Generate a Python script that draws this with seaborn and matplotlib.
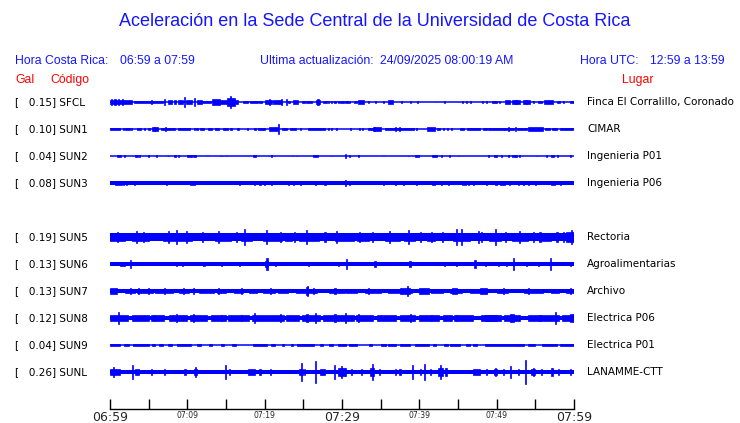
import numpy as np
import pandas as pd
import matplotlib
matplotlib.use("Agg")
import matplotlib.pyplot as plt
import matplotlib.transforms as mtransforms
import seaborn as sns

sns.set_style("white")

# --- data (minutes after 06:59, half amplitude in Gal) ---
codes = ['SFCL', 'SUN1', 'SUN2', 'SUN3', 'SUN5', 'SUN6', 'SUN7', 'SUN8', 'SUN9', 'SUNL']
peaks = [0.15, 0.10, 0.04, 0.08, 0.19, 0.13, 0.13, 0.12, 0.04, 0.26]
places = ['Finca El Corralillo, Coronado', 'CIMAR', 'Ingenieria P01', 'Ingenieria P06',
          'Rectoria', 'Agroalimentarias', 'Archivo', 'Electrica P06', 'Electrica P01', 'LANAMME-CTT']
noise = [0.0, 0.0, 0.0, 0.032, 0.078, 0.037, 0.04, 0.044, 0.0, 0.045]

tick_minutes = list(range(0, 61, 5))
tick_labels = ['06:59', '', '07:09', '', '07:19', '', '07:29', '', '07:39', '', '07:49', '', '07:59']

# bursts: (start, end, half amplitude)
sfcl = [(0.0, 2.8, 0.035), (0.2, 0.2, 0.055), (0.65, 0.65, 0.055), (1.1, 1.1, 0.055), (1.6, 1.6, 0.055),
        (3.15, 6.9, 0.028), (5.4, 5.4, 0.05), (7.0, 7.0, 0.07), (7.5, 8.0, 0.035), (8.3, 8.5, 0.035),
        (8.75, 9.5, 0.045), (9.6, 9.6, 0.10), (9.8, 10.6, 0.035), (10.9, 10.9, 0.09), (11.25, 11.85, 0.04),
        (11.9, 13.05, 0.025), (13.2, 14.2, 0.065), (14.2, 15.1, 0.05), (15.1, 16.1, 0.09), (15.6, 15.6, 0.12),
        (16.1, 16.6, 0.04), (17.2, 17.8, 0.03), (18.1, 19.1, 0.03), (19.3, 19.6, 0.03), (20.0, 20.9, 0.04),
        (20.6, 20.6, 0.06), (21.1, 21.8, 0.035), (21.8, 22.2, 0.045), (22.2, 22.2, 0.06), (22.8, 22.8, 0.07),
        (23.0, 23.3, 0.03), (23.7, 24.35, 0.045), (24.8, 25.2, 0.03), (25.4, 26.1, 0.03), (26.6, 27.2, 0.04),
        (26.9, 26.9, 0.055), (27.6, 28.0, 0.03), (28.2, 28.2, 0.02), (28.6, 28.6, 0.02), (29.1, 29.1, 0.02),
        (29.5, 29.5, 0.02), (29.75, 30.2, 0.03), (30.4, 31.0, 0.03), (31.5, 31.9, 0.03), (32.1, 32.8, 0.035),
        (33.4, 33.4, 0.02), (34.3, 34.3, 0.02), (35.35, 35.35, 0.02), (35.9, 36.65, 0.035), (37.7, 37.7, 0.03),
        (38.9, 38.9, 0.02), (39.75, 39.75, 0.03), (42.25, 42.25, 0.01), (43.3, 43.3, 0.015), (45.5, 45.7, 0.025),
        (46.1, 46.1, 0.02), (46.6, 46.6, 0.03), (48.2, 48.2, 0.02), (48.7, 48.7, 0.02), (49.4, 50.0, 0.03),
        (50.35, 50.35, 0.02), (51.1, 51.75, 0.035), (51.95, 53.0, 0.04), (52.5, 52.5, 0.05), (53.4, 54.3, 0.035),
        (53.9, 53.9, 0.05), (54.75, 54.75, 0.02), (55.4, 55.8, 0.03), (56.1, 57.3, 0.035), (57.8, 58.2, 0.03),
        (58.7, 58.7, 0.02), (59.5, 60.0, 0.03)]
sun1 = [(0.0, 1.3, 0.03), (1.7, 1.7, 0.02), (2.0, 2.6, 0.025), (2.8, 2.8, 0.02), (3.45, 4.0, 0.03),
        (4.5, 4.5, 0.02), (4.9, 5.2, 0.025), (5.4, 6.2, 0.035), (5.7, 5.7, 0.05), (6.6, 7.1, 0.025),
        (7.1, 8.4, 0.03), (7.2, 7.2, 0.05), (8.75, 10.35, 0.028), (10.9, 10.9, 0.02), (11.25, 11.25, 0.02),
        (11.6, 12.1, 0.03), (12.7, 13.15, 0.025), (13.6, 14.1, 0.025), (14.65, 15.2, 0.03), (15.65, 15.65, 0.02),
        (16.4, 16.7, 0.025), (17.8, 17.8, 0.02), (18.75, 18.75, 0.02), (19.2, 19.6, 0.02), (19.7, 20.1, 0.03),
        (20.6, 21.7, 0.035), (21.8, 21.8, 0.11), (22.2, 22.85, 0.02), (23.3, 24.1, 0.03), (24.6, 24.6, 0.02),
        (25.6, 27.8, 0.03), (28.2, 28.2, 0.02), (28.7, 28.7, 0.02), (29.3, 29.3, 0.02), (31.1, 31.1, 0.02),
        (32.3, 32.3, 0.015), (32.7, 32.7, 0.015), (33.4, 34.06, 0.03), (34.06, 35.1, 0.035), (34.2, 34.2, 0.045),
        (35.6, 39.3, 0.03), (36.9, 36.9, 0.04), (37.4, 37.4, 0.04), (39.6, 39.6, 0.02), (40.95, 42.0, 0.035),
        (42.3, 42.7, 0.03), (43.1, 43.1, 0.02), (43.6, 43.6, 0.02), (44.2, 44.2, 0.015), (45.2, 45.8, 0.02),
        (46.1, 47.85, 0.03), (48.2, 48.7, 0.025), (48.9, 50.9, 0.03), (50.95, 52.2, 0.03), (51.5, 51.5, 0.045),
        (52.4, 52.4, 0.045), (52.6, 53.9, 0.03), (54.1, 56.0, 0.035), (56.3, 56.9, 0.025), (57.1, 57.8, 0.025),
        (58.2, 59.9, 0.025)]
sun2 = [(0.85, 1.4, 0.03), (1.9, 1.9, 0.02), (3.2, 3.6, 0.03), (3.8, 3.8, 0.02), (4.95, 4.95, 0.02),
        (6.0, 6.0, 0.015), (7.5, 7.5, 0.01), (8.4, 8.4, 0.02), (8.8, 8.8, 0.02), (9.9, 10.6, 0.03),
        (10.75, 11.1, 0.03), (12.6, 12.6, 0.01), (14.35, 14.35, 0.01), (15.1, 15.1, 0.01), (18.45, 18.9, 0.03),
        (20.9, 20.9, 0.02), (23.6, 23.6, 0.01), (24.1, 24.1, 0.01), (26.3, 26.85, 0.03), (28.7, 28.7, 0.01),
        (30.5, 30.5, 0.05), (30.95, 30.95, 0.02), (32.1, 32.1, 0.015), (35.35, 35.35, 0.01), (38.6, 38.6, 0.01),
        (39.45, 39.9, 0.03), (41.6, 42.25, 0.03), (42.9, 42.9, 0.015), (43.9, 43.9, 0.02), (45.05, 45.05, 0.01),
        (48.9, 48.9, 0.025), (49.65, 50.1, 0.03), (50.65, 50.65, 0.015), (51.5, 51.5, 0.015), (51.95, 52.6, 0.025),
        (53.0, 53.0, 0.02), (55.2, 55.2, 0.01), (56.5, 56.5, 0.02), (57.0, 57.4, 0.03), (57.9, 57.9, 0.02),
        (59.5, 59.5, 0.015)]
sun3 = [(0.65, 1.5, 0.045), (1.7, 1.7, 0.04), (2.15, 2.15, 0.04), (3.2, 3.2, 0.045), (7.3, 7.3, 0.035),
        (10.35, 11.0, 0.05), (16.8, 16.8, 0.035), (18.65, 18.65, 0.045), (19.4, 19.4, 0.04), (20.0, 20.0, 0.035),
        (20.9, 20.9, 0.035), (23.05, 23.05, 0.04), (23.7, 23.7, 0.035), (24.6, 24.6, 0.035), (26.6, 26.6, 0.045),
        (27.8, 27.8, 0.035), (30.5, 30.5, 0.065), (31.0, 31.0, 0.035), (35.35, 35.35, 0.035), (36.9, 36.9, 0.035),
        (37.9, 37.9, 0.035), (39.6, 39.6, 0.04), (41.6, 42.0, 0.045), (42.9, 42.9, 0.04), (43.75, 43.75, 0.035),
        (45.6, 45.6, 0.035), (45.9, 45.9, 0.035), (46.35, 46.35, 0.035), (47.0, 47.0, 0.035), (48.7, 48.7, 0.04),
        (49.8, 50.0, 0.045), (50.4, 51.1, 0.035), (51.7, 51.7, 0.035), (52.8, 52.8, 0.035), (53.5, 53.5, 0.035),
        (54.1, 54.1, 0.035), (55.0, 55.0, 0.035), (57.0, 57.55, 0.045), (58.2, 58.2, 0.035)]
sun5 = [(0.0, 2.0, 0.09), (1.0, 1.0, 0.11), (2.8, 5.0, 0.09), (3.45, 3.45, 0.135), (4.3, 4.3, 0.11),
        (6.9, 10.6, 0.09), (7.55, 7.55, 0.13), (8.6, 8.6, 0.15), (9.9, 9.9, 0.12), (12.0, 12.0, 0.10),
        (13.6, 15.7, 0.09), (14.0, 14.0, 0.12), (16.3, 16.3, 0.10), (17.0, 18.3, 0.09), (17.45, 17.45, 0.165),
        (19.8, 22.2, 0.09), (20.25, 20.25, 0.14), (22.0, 22.0, 0.105), (22.6, 23.5, 0.09), (23.9, 23.9, 0.10),
        (24.4, 27.0, 0.09), (25.4, 25.4, 0.14), (27.8, 27.8, 0.10), (29.1, 31.5, 0.09), (29.3, 29.3, 0.12),
        (32.0, 33.5, 0.09), (32.3, 32.3, 0.115), (34.0, 34.0, 0.10), (35.5, 37.5, 0.095), (36.2, 36.2, 0.13),
        (38.0, 39.5, 0.09), (38.6, 38.6, 0.155), (40.2, 40.2, 0.10), (41.0, 42.0, 0.09), (41.6, 41.6, 0.105),
        (43.0, 43.0, 0.10), (44.3, 46.5, 0.095), (44.75, 44.75, 0.16), (45.5, 45.5, 0.17), (47.6, 47.6, 0.12),
        (48.0, 48.0, 0.10), (49.0, 50.5, 0.09), (49.8, 49.8, 0.18), (51.2, 51.2, 0.105), (52.0, 54.0, 0.09),
        (53.0, 53.0, 0.135), (54.8, 54.8, 0.10), (55.5, 57.0, 0.09), (55.6, 55.6, 0.105), (57.8, 57.8, 0.11),
        (58.6, 58.6, 0.10), (59.0, 60.0, 0.105), (59.7, 59.7, 0.155)]
sun6 = [(1.3, 1.95, 0.05), (2.6, 2.6, 0.08), (8.6, 8.6, 0.045), (9.35, 9.35, 0.045), (12.15, 12.15, 0.05),
        (14.45, 14.45, 0.045), (16.7, 16.7, 0.045), (20.1, 20.4, 0.06), (20.3, 20.3, 0.12), (21.35, 21.35, 0.05),
        (25.65, 25.65, 0.045), (29.5, 29.5, 0.045), (30.6, 30.6, 0.10), (34.1, 34.4, 0.055), (38.6, 38.9, 0.055),
        (43.3, 43.3, 0.045), (44.85, 44.85, 0.045), (47.2, 47.2, 0.09), (48.5, 48.5, 0.05), (50.2, 50.2, 0.05),
        (51.3, 51.3, 0.05), (52.2, 52.2, 0.12), (53.9, 53.9, 0.05), (55.4, 55.4, 0.045), (57.0, 57.0, 0.13),
        (59.5, 59.5, 0.045)]
sun7 = [(0.0, 0.9, 0.055), (2.0, 3.2, 0.05), (2.6, 2.6, 0.055), (3.5, 5.5, 0.05), (3.65, 3.65, 0.055),
        (4.95, 4.95, 0.07), (5.8, 8.2, 0.05), (7.1, 7.1, 0.07), (8.9, 10.2, 0.05), (9.5, 9.5, 0.07),
        (10.8, 10.8, 0.055), (11.5, 13.5, 0.05), (13.8, 15.0, 0.05), (14.0, 14.0, 0.065), (16.0, 17.2, 0.05),
        (17.0, 17.0, 0.055), (18.0, 19.0, 0.05), (19.8, 21.3, 0.05), (20.7, 20.7, 0.07), (21.7, 23.0, 0.05),
        (24.0, 26.8, 0.05), (25.4, 25.65, 0.08), (25.5, 25.5, 0.105), (26.3, 26.3, 0.06), (28.3, 30.4, 0.05),
        (29.1, 29.1, 0.055), (30.5, 32.0, 0.05), (33.0, 35.0, 0.05), (33.4, 33.4, 0.06), (36.0, 39.0, 0.05),
        (37.5, 38.8, 0.07), (38.5, 38.5, 0.11), (39.9, 41.2, 0.055), (41.5, 43.0, 0.05), (44.0, 45.5, 0.05),
        (44.2, 44.85, 0.055), (46.5, 48.7, 0.05), (47.85, 48.7, 0.06), (50.0, 51.5, 0.05), (50.9, 50.9, 0.06),
        (53.5, 56.0, 0.05), (54.1, 54.1, 0.065), (57.0, 58.0, 0.05), (59.0, 60.0, 0.05), (59.5, 59.5, 0.055)]
sun8 = [(0.0, 2.3, 0.06), (1.15, 1.15, 0.12), (2.8, 5.0, 0.06), (5.3, 7.0, 0.06), (5.8, 5.8, 0.07),
        (7.6, 10.0, 0.06), (8.6, 8.6, 0.075), (10.3, 12.5, 0.06), (10.8, 10.8, 0.075), (13.0, 15.0, 0.06),
        (14.45, 14.45, 0.07), (15.2, 18.0, 0.06), (17.0, 17.0, 0.07), (18.3, 22.5, 0.06), (18.7, 18.7, 0.105),
        (22.0, 22.0, 0.075), (22.8, 24.5, 0.06), (24.8, 27.2, 0.06), (25.4, 25.6, 0.085), (26.6, 26.6, 0.10),
        (27.5, 30.4, 0.06), (29.1, 29.1, 0.075), (30.4, 31.5, 0.06), (30.5, 30.5, 0.105), (31.8, 34.0, 0.06),
        (32.1, 32.1, 0.075), (34.5, 37.0, 0.06), (37.5, 39.5, 0.06), (38.8, 38.8, 0.075), (40.0, 42.5, 0.06),
        (41.6, 41.6, 0.065), (43.0, 44.2, 0.06), (44.5, 47.0, 0.06), (44.85, 44.85, 0.065), (48.0, 50.5, 0.06),
        (48.5, 50.0, 0.07), (51.0, 53.0, 0.065), (51.7, 52.2, 0.075), (54.0, 58.0, 0.065), (55.6, 55.6, 0.07),
        (57.55, 57.55, 0.12), (58.5, 60.0, 0.065), (59.5, 60.0, 0.075)]
sun9 = [(0.0, 1.3, 0.025), (1.8, 2.5, 0.025), (3.0, 5.0, 0.025), (5.4, 5.8, 0.025), (6.3, 6.8, 0.025),
        (7.5, 8.0, 0.025), (8.6, 10.5, 0.03), (11.2, 11.8, 0.025), (12.8, 13.2, 0.025), (14.3, 14.7, 0.025),
        (15.8, 16.3, 0.025), (18.5, 20.3, 0.025), (20.8, 21.4, 0.025), (22.3, 22.5, 0.025), (23.4, 23.7, 0.025),
        (24.2, 26.4, 0.03), (27.2, 27.5, 0.025), (28.3, 28.8, 0.025), (29.5, 30.5, 0.025), (30.9, 32.0, 0.025),
        (33.5, 33.9, 0.025), (35.0, 35.7, 0.025), (36.0, 37.0, 0.025), (37.5, 38.8, 0.025), (39.5, 41.2, 0.025),
        (41.8, 42.2, 0.025), (43.2, 43.7, 0.025), (44.0, 45.2, 0.025), (46.0, 46.5, 0.025), (47.0, 47.4, 0.025),
        (48.5, 53.5, 0.025), (54.0, 55.0, 0.025), (55.8, 57.8, 0.025), (58.2, 60.0, 0.025)]
sunl = [(0.0, 1.3, 0.065), (0.45, 0.45, 0.10), (2.9, 2.9, 0.14), (3.2, 3.7, 0.065), (5.4, 5.4, 0.055),
        (7.1, 7.1, 0.055), (9.7, 9.7, 0.055), (10.8, 11.2, 0.07), (11.0, 11.0, 0.10), (14.9, 14.9, 0.14),
        (15.4, 15.4, 0.055), (17.9, 18.75, 0.065), (19.4, 19.4, 0.055), (20.8, 20.8, 0.055), (24.5, 25.0, 0.07),
        (24.8, 24.8, 0.19), (25.2, 25.2, 0.065), (26.6, 26.6, 0.23), (27.2, 27.8, 0.07), (29.0, 29.0, 0.14),
        (29.5, 30.4, 0.08), (29.9, 29.9, 0.12), (30.5, 30.5, 0.09), (31.25, 31.25, 0.065), (32.55, 32.55, 0.055),
        (33.6, 34.2, 0.08), (33.9, 33.9, 0.16), (34.9, 34.9, 0.055), (36.9, 36.9, 0.065), (37.5, 37.5, 0.065),
        (39.15, 39.15, 0.14), (40.1, 40.1, 0.065), (40.65, 40.65, 0.17), (41.4, 41.4, 0.055), (42.4, 43.0, 0.08),
        (42.75, 42.75, 0.14), (43.45, 43.45, 0.08), (47.0, 47.85, 0.065), (48.7, 48.7, 0.065), (49.6, 50.0, 0.07),
        (49.8, 49.8, 0.08), (50.9, 50.9, 0.065), (51.8, 51.8, 0.13), (52.8, 52.8, 0.065), (53.7, 53.7, 0.26),
        (54.5, 55.0, 0.07), (54.75, 54.75, 0.08), (55.8, 55.8, 0.065), (57.0, 57.3, 0.08), (58.0, 58.0, 0.065),
        (59.5, 59.5, 0.065)]
bursts = [sfcl, sun1, sun2, sun3, sun5, sun6, sun7, sun8, sun9, sunl]

# --- layout ---
W, H = 740, 423
slots = [0, 1, 2, 3, 5, 6, 7, 8, 9, 10]   # SUN4 slot left empty
PX_PER_GAL = 47.0
ROW = 27 / PX_PER_GAL
BLUE = '#0000ff'
top_px, bot_px, first_px = 85, 409, 102

fig = plt.figure(figsize=(W / 100, H / 100), dpi=100)
ax = fig.add_axes([110 / W, 1 - bot_px / H, 464 / W, (bot_px - top_px) / H])
ax.set_xlim(0, 60)
ax.set_ylim((bot_px - first_px) / PX_PER_GAL, (top_px - first_px) / PX_PER_GAL)

# thin zero line of every trace
base_df = pd.DataFrame({
    'minute': [0, 60] * len(codes),
    'y': np.repeat([s * ROW for s in slots], 2),
    'station': np.repeat(codes, 2),
})
sns.lineplot(data=base_df, x='minute', y='y', units='station', estimator=None,
             color=BLUE, linewidth=1.1, ax=ax, legend=False)

for slot, lvl, segs in zip(slots, noise, bursts):
    y0 = slot * ROW
    if lvl > 0:
        ax.bar(30, 2 * lvl, width=60, bottom=y0 - lvl, color=BLUE, linewidth=0)
    t0 = np.array([s[0] for s in segs])
    t1 = np.array([s[1] for s in segs])
    amp = np.array([s[2] for s in segs])
    width = np.maximum(t1 - t0, 0.14)
    ax.bar((t0 + t1) / 2, 2 * amp, width=width, bottom=y0 - amp,
           color=BLUE, edgecolor=BLUE, linewidth=0.5)

# time axis
for side in ['top', 'left', 'right']:
    ax.spines[side].set_visible(False)
ax.spines['bottom'].set_color('black')
ax.spines['bottom'].set_linewidth(1.0)
ax.set_yticks([])
ax.set_xticks(tick_minutes)
ax.set_xticklabels(tick_labels)
ax.tick_params(axis='x', bottom=True, direction='in', length=7, width=1, color='black', pad=1.5)
for lab, m in zip(ax.get_xticklabels(), tick_minutes):
    lab.set_fontsize(9 if m % 30 == 0 else 5.5)
    lab.set_family('DejaVu Sans')
ax.set_xlabel('')
ax.set_ylabel('')

# station labels
trans = mtransforms.blended_transform_factory(fig.transFigure, ax.transData)
for slot, code, pk, place in zip(slots, codes, peaks, places):
    ax.text(15 / W, slot * ROW, f'[   {pk:.2f}] {code}', transform=trans, ha='left', va='center',
            fontsize=7.5, family='DejaVu Sans', color='black')
    ax.text(587 / W, slot * ROW, place, transform=trans, ha='left', va='center',
            fontsize=7.5, family='DejaVu Sans', color='black')

# header
hf = 'Liberation Sans'
hc = '#1515ff'
fig.text(375 / W, 1 - 22 / H, 'Aceleración en la Sede Central de la Universidad de Costa Rica',
         ha='center', va='center', fontsize=13, family=hf, color=hc)
row2 = 1 - 61 / H
fig.text(15 / W, row2, 'Hora Costa Rica:', ha='left', va='center', fontsize=8.8, family=hf, color=hc)
fig.text(120 / W, row2, '06:59 a 07:59', ha='left', va='center', fontsize=8.8, family=hf, color=hc)
fig.text(260 / W, row2, 'Ultima actualización:', ha='left', va='center', fontsize=8.8, family=hf, color=hc)
fig.text(380 / W, row2, '24/09/2025 08:00:19 AM', ha='left', va='center', fontsize=8.8, family=hf, color=hc)
fig.text(580 / W, row2, 'Hora UTC:', ha='left', va='center', fontsize=8.8, family=hf, color=hc)
fig.text(650 / W, row2, '12:59 a 13:59', ha='left', va='center', fontsize=8.8, family=hf, color=hc)
row3 = 1 - 80 / H
fig.text(15 / W, row3, 'Gal', ha='left', va='center', fontsize=8.8, family=hf, color='red')
fig.text(50 / W, row3, 'Código', ha='left', va='center', fontsize=8.8, family=hf, color='red')
fig.text(622 / W, row3, 'Lugar', ha='left', va='center', fontsize=8.8, family=hf, color='red')

fig.savefig('out.png', dpi=100)
